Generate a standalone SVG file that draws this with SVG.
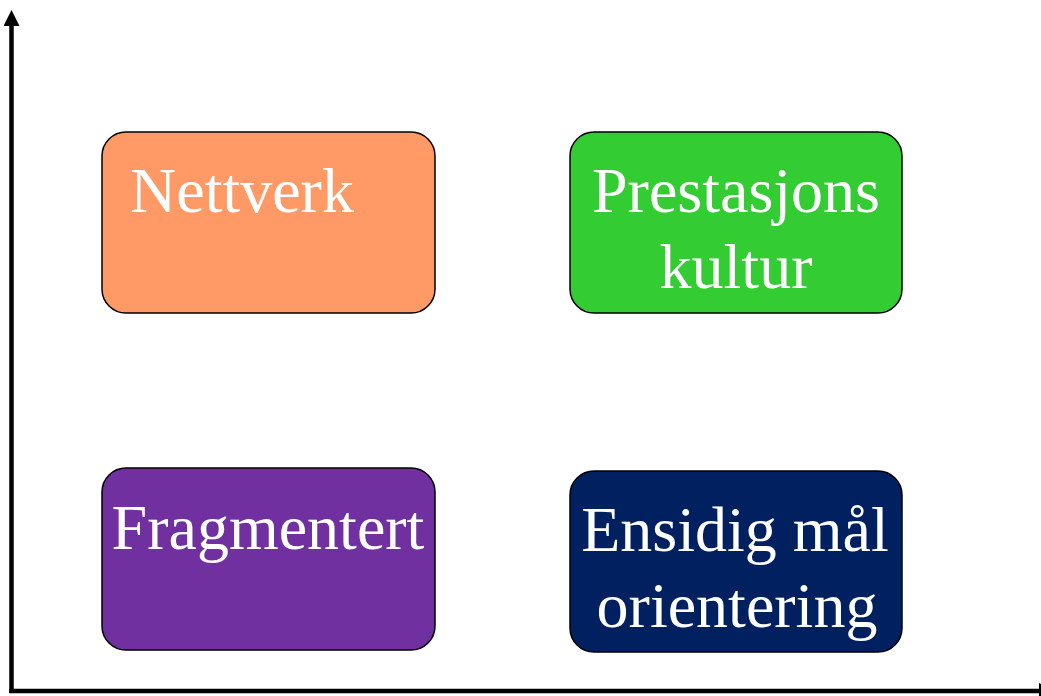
<svg xmlns="http://www.w3.org/2000/svg" width="1041" height="696" viewBox="0 0 1041 696">
<style>
.box{stroke:#000;stroke-width:1.5}
.lbl{font-family:"Liberation Serif","Times New Roman",serif;font-size:64px;fill:#fff}
.ax{stroke:#000;stroke-width:4.5;fill:none}
</style>
<defs>
<marker id="ah" markerUnits="userSpaceOnUse" markerWidth="16" markerHeight="16" viewBox="0 0 16 16" refX="0" refY="8" orient="auto">
<path d="M0,0 L16,8 L0,16 Z" fill="#000"/>
</marker>
</defs>
<rect width="1041" height="696" fill="#fff"/>
<g id="connectors">
<line class="ax" x1="11.5" y1="693" x2="11.5" y2="26" marker-end="url(#ah)"/>
<line class="ax" x1="9.3" y1="691" x2="1039" y2="691" marker-end="url(#ah)"/>
</g>
<g id="nettverk">
<rect class="box" x="102" y="132" width="333" height="181" rx="24" fill="#FF9966"/>
<text class="lbl" x="130" y="212">Nettverk</text>
</g>
<g id="prestasjons">
<rect class="box" x="570" y="132" width="332" height="181" rx="24" fill="#33CC33"/>
<text class="lbl" x="736" y="212" text-anchor="middle">Prestasjons</text>
<text class="lbl" x="736" y="288" text-anchor="middle">kultur</text>
</g>
<g id="fragmentert">
<rect class="box" x="102" y="468" width="333" height="182" rx="24" fill="#7030A0"/>
<text class="lbl" x="268" y="549" text-anchor="middle">Fragmentert</text>
</g>
<g id="ensidig">
<rect class="box" x="570" y="471" width="332" height="181" rx="24" fill="#002060"/>
<text class="lbl" x="735" y="551" text-anchor="middle">Ensidig mål</text>
<text class="lbl" x="737" y="627" text-anchor="middle">orientering</text>
</g>
</svg>
